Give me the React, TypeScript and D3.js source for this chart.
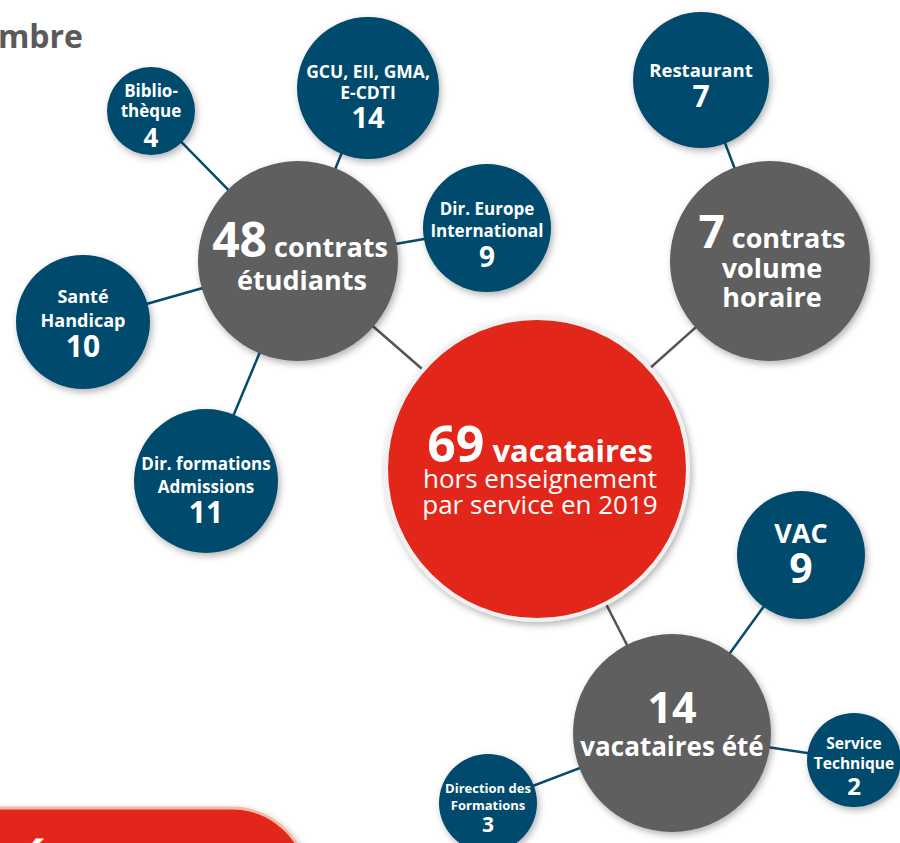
import React, { useEffect, useRef } from "react";
import * as d3 from "d3";

// ---- data ----
const titleText = "Nombre";
const totalValue = 69;
const totalLabels = ["vacataires", "hors enseignement", "par service en 2019"];
const hubValues = [48, 7, 14];
const hubLabels = [["contrats", "étudiants"], ["contrats", "volume", "horaire"], ["vacataires été"]];
const leafLabels = [
  ["Biblio-", "thèque"],
  ["GCU, EII, GMA,", "E-CDTI"],
  ["Dir. Europe", "International"],
  ["Santé", "Handicap"],
  ["Dir. formations", "Admissions"],
  ["Restaurant"],
  ["VAC"],
  ["Service", "Technique"],
  ["Direction des", "Formations"],
];
const leafValues = [4, 14, 9, 10, 11, 7, 9, 2, 3];
const leafHub = [0, 0, 0, 0, 0, 1, 2, 2, 2];

// ---- layout (positions / sizes) ----
const W = 900, H = 843;
const centerLayout = { x: 537, y: 469, r: 149 };
const hubLayout = [
  { x: 298, y: 261, r: 100 },
  { x: 770, y: 261, r: 100 },
  { x: 672, y: 733, r: 99 },
];
const leafLayout = [
  { x: 151, y: 111, r: 44, fs: 17, nfs: 26, dy: [-14, 6], ndy: 36 },
  { x: 368, y: 88, r: 71, fs: 17.5, nfs: 29, dy: [-10, 11], ndy: 40 },
  { x: 487, y: 228, r: 64, fs: 17, nfs: 28, dy: [-13, 9], ndy: 39 },
  { x: 83, y: 322, r: 67, fs: 18, nfs: 30, dy: [-19, 5], ndy: 35 },
  { x: 206, y: 481, r: 72, fs: 17, nfs: 30, dy: [-11, 12], ndy: 42 },
  { x: 701, y: 80, r: 68, fs: 18.5, nfs: 30, dy: [-3], ndy: 27 },
  { x: 801, y: 555, r: 64, fs: 27, nfs: 41, dy: [-12], ndy: 28 },
  { x: 854, y: 760, r: 47, fs: 15.5, nfs: 24, dy: [-11, 9], ndy: 35 },
  { x: 488, y: 803, r: 49, fs: 13, nfs: 21, dy: [-10, 7], ndy: 29 },
];

const RED = "#e2271a";
const GRAY = "#5e5e5e";
const BLUE = "#054b6d";
const FONT = "'Open Sans', sans-serif";

export default function App() {
  const ref = useRef<SVGSVGElement>(null);

  useEffect(() => {
    const svg = d3.select(ref.current);
    svg.selectAll("*").remove();

    const defs = svg.append("defs");
    const f = defs.append("filter").attr("id", "sh").attr("x", "-30%").attr("y", "-30%").attr("width", "160%").attr("height", "160%");
    f.append("feDropShadow").attr("dx", 2).attr("dy", 3).attr("stdDeviation", 3.5).attr("flood-color", "#000").attr("flood-opacity", 0.3);

    svg.append("rect").attr("width", W).attr("height", H).attr("fill", "#ffffff");

    // title fragment
    svg.append("text").attr("x", 83).attr("y", 48).attr("text-anchor", "end")
      .attr("font-family", FONT).attr("font-weight", 700).attr("font-size", 32).attr("fill", "#5a5a5a")
      .text(titleText);

    // bottom-left red banner
    svg.append("path")
      .attr("d", `M -10 808 H 232 A 76 76 0 0 1 308 884 V 900 H -10 Z`)
      .attr("fill", RED).attr("stroke", "#f5b9a4").attr("stroke-width", 3).attr("filter", "url(#sh)");
    svg.append("text").attr("x", 20).attr("y", 884).attr("font-family", FONT).attr("font-weight", 700)
      .attr("font-size", 48).attr("fill", "#fff").text("É");

    // edges hub -> center
    svg.append("g").selectAll("line").data(hubLayout).join("line")
      .attr("x1", d => d.x).attr("y1", d => d.y).attr("x2", centerLayout.x).attr("y2", centerLayout.y)
      .attr("stroke", "#555").attr("stroke-width", 2.5);

    // edges leaf -> hub
    svg.append("g").selectAll("line").data(leafLayout).join("line")
      .attr("x1", d => d.x).attr("y1", d => d.y)
      .attr("x2", (_d, i) => hubLayout[leafHub[i]].x).attr("y2", (_d, i) => hubLayout[leafHub[i]].y)
      .attr("stroke", BLUE).attr("stroke-width", 2.5);

    // center circle
    const cg = svg.append("g");
    cg.append("circle").attr("cx", centerLayout.x).attr("cy", centerLayout.y).attr("r", centerLayout.r + 4)
      .attr("fill", "#f1f1f1").attr("filter", "url(#sh)");
    cg.append("circle").attr("cx", centerLayout.x).attr("cy", centerLayout.y).attr("r", centerLayout.r).attr("fill", RED);
    const ct = cg.append("text").attr("x", 540).attr("y", 462).attr("text-anchor", "middle")
      .attr("font-family", FONT).attr("fill", "#fff");
    ct.append("tspan").attr("font-weight", 700).attr("font-size", 50).text(String(totalValue));
    ct.append("tspan").attr("font-weight", 700).attr("font-size", 31).text(" " + totalLabels[0]);
    totalLabels.slice(1).forEach((t, i) => {
      cg.append("text").attr("x", 540).attr("y", 488 + i * 26).attr("text-anchor", "middle")
        .attr("font-family", FONT).attr("font-weight", 400).attr("font-size", 26).attr("fill", "#fff").text(t);
    });

    // hubs
    const hg = svg.append("g").selectAll("g").data(hubLayout).join("g");
    hg.append("circle").attr("cx", d => d.x).attr("cy", d => d.y).attr("r", d => d.r)
      .attr("fill", GRAY).attr("filter", "url(#sh)");

    // hub 0
    {
      const h = hubLayout[0];
      const t = svg.append("text").attr("x", h.x + 2).attr("y", 257).attr("text-anchor", "middle")
        .attr("font-family", FONT).attr("font-weight", 700).attr("fill", "#fff");
      t.append("tspan").attr("font-size", 48).text(String(hubValues[0]));
      t.append("tspan").attr("font-size", 27).text(" " + hubLabels[0][0]);
      svg.append("text").attr("x", h.x + 4).attr("y", 290).attr("text-anchor", "middle")
        .attr("font-family", FONT).attr("font-weight", 700).attr("font-size", 27).attr("fill", "#fff").text(hubLabels[0][1]);
    }
    // hub 1
    {
      const h = hubLayout[1];
      const t = svg.append("text").attr("x", h.x + 2).attr("y", 248).attr("text-anchor", "middle")
        .attr("font-family", FONT).attr("font-weight", 700).attr("fill", "#fff");
      t.append("tspan").attr("font-size", 46).text(String(hubValues[1]));
      t.append("tspan").attr("font-size", 27).text(" " + hubLabels[1][0]);
      hubLabels[1].slice(1).forEach((s, i) => {
        svg.append("text").attr("x", h.x + 2).attr("y", 278 + i * 29).attr("text-anchor", "middle")
          .attr("font-family", FONT).attr("font-weight", 700).attr("font-size", 27).attr("fill", "#fff").text(s);
      });
    }
    // hub 2
    {
      const h = hubLayout[2];
      svg.append("text").attr("x", h.x).attr("y", 723).attr("text-anchor", "middle")
        .attr("font-family", FONT).attr("font-weight", 700).attr("font-size", 43).attr("fill", "#fff").text(String(hubValues[2]));
      svg.append("text").attr("x", h.x).attr("y", 756).attr("text-anchor", "middle")
        .attr("font-family", FONT).attr("font-weight", 700).attr("font-size", 26).attr("fill", "#fff").text(hubLabels[2][0]);
    }

    // leaves
    const lg = svg.append("g").selectAll("g").data(leafLayout).join("g");
    lg.append("circle").attr("cx", d => d.x).attr("cy", d => d.y).attr("r", d => d.r)
      .attr("fill", BLUE).attr("filter", "url(#sh)");
    lg.each(function (d, i) {
      const g = d3.select(this);
      leafLabels[i].forEach((s, j) => {
        g.append("text").attr("x", d.x).attr("y", d.y + d.dy[j]).attr("text-anchor", "middle")
          .attr("font-family", FONT).attr("font-weight", 700).attr("font-size", d.fs)
          .attr("fill", "#fff").text(s);
      });
      g.append("text").attr("x", d.x).attr("y", d.y + d.ndy).attr("text-anchor", "middle")
        .attr("font-family", FONT).attr("font-weight", 700).attr("font-size", d.nfs)
        .attr("fill", "#fff").text(String(leafValues[i]));
    });
  }, []);

  return (
    <svg ref={ref} width={W} height={H} style={{ position: "absolute", left: 0, top: 0, display: "block" }} />
  );
}
